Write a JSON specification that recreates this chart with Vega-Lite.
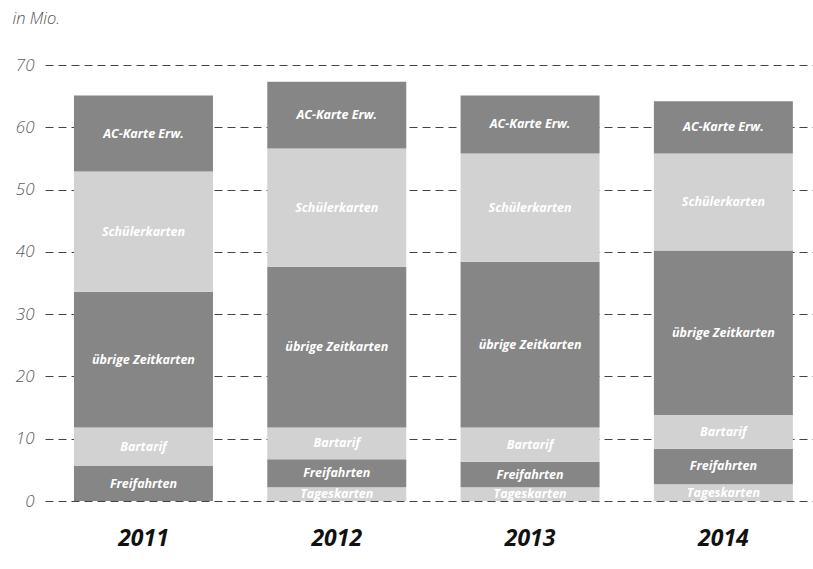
{
  "$schema": "https://vega.github.io/schema/vega-lite/v6.json",
  "autosize": {"type": "none"},
  "width": 768,
  "height": 436,
  "padding": {"left": 45, "top": 65, "right": 0, "bottom": 68},
  "background": "white",
  "data": {
    "values": [
      {"year": "2011", "cat": "Freifahrten", "value": 5.6},
      {"year": "2011", "cat": "Bartarif", "value": 6.2},
      {"year": "2011", "cat": "übrige Zeitkarten", "value": 21.8},
      {"year": "2011", "cat": "Schülerkarten", "value": 19.3},
      {"year": "2011", "cat": "AC-Karte Erw.", "value": 12.2},
      {"year": "2012", "cat": "Tageskarten", "value": 2.2},
      {"year": "2012", "cat": "Freifahrten", "value": 4.5},
      {"year": "2012", "cat": "Bartarif", "value": 5.1},
      {"year": "2012", "cat": "übrige Zeitkarten", "value": 25.8},
      {"year": "2012", "cat": "Schülerkarten", "value": 19.0},
      {"year": "2012", "cat": "AC-Karte Erw.", "value": 10.7},
      {"year": "2013", "cat": "Tageskarten", "value": 2.2},
      {"year": "2013", "cat": "Freifahrten", "value": 4.1},
      {"year": "2013", "cat": "Bartarif", "value": 5.5},
      {"year": "2013", "cat": "übrige Zeitkarten", "value": 26.6},
      {"year": "2013", "cat": "Schülerkarten", "value": 17.4},
      {"year": "2013", "cat": "AC-Karte Erw.", "value": 9.3},
      {"year": "2014", "cat": "Tageskarten", "value": 2.7},
      {"year": "2014", "cat": "Freifahrten", "value": 5.7},
      {"year": "2014", "cat": "Bartarif", "value": 5.4},
      {"year": "2014", "cat": "übrige Zeitkarten", "value": 26.4},
      {"year": "2014", "cat": "Schülerkarten", "value": 15.6},
      {"year": "2014", "cat": "AC-Karte Erw.", "value": 8.4}
    ]
  },
  "transform": [
    {"calculate": "indexof(['Tageskarten','Freifahrten','Bartarif','übrige Zeitkarten','Schülerkarten','AC-Karte Erw.'], datum.cat)", "as": "ord"},
    {"stack": "value", "groupby": ["year"], "sort": [{"field": "ord", "order": "ascending"}], "as": ["v0", "v1"]},
    {"calculate": "(datum.v0 + datum.v1) / 2", "as": "vm"}
  ],
  "encoding": {
    "x": {
      "field": "year",
      "type": "nominal",
      "scale": {"paddingInner": 0.281, "paddingOuter": 0.127, "align": 0.59},
      "axis": {
        "title": null,
        "domain": false,
        "ticks": false,
        "labelAngle": 0,
        "labelFont": "Open Sans",
        "labelFontSize": 23,
        "labelFontWeight": "bold",
        "labelFontStyle": "italic",
        "labelColor": "#111111",
        "labelPadding": 26
      }
    }
  },
  "layer": [
    {
      "mark": {"type": "bar"},
      "encoding": {
        "y": {
          "field": "v1",
          "type": "quantitative",
          "scale": {"domain": [0, 70]},
          "axis": {
            "values": [0, 10, 20, 30, 40, 50, 60, 70],
            "title": "in Mio.",
            "titleAngle": 0,
            "titleAlign": "left",
            "titleBaseline": "middle",
            "titleX": -33,
            "titleY": -47,
            "titleFont": "Open Sans",
            "titleFontSize": 16.5,
            "titleFontWeight": 300,
            "titleFontStyle": "italic",
            "titleColor": "#555555",
            "domain": false,
            "ticks": false,
            "labelPadding": 11,
            "labelFont": "Open Sans",
            "labelFontSize": 17,
            "labelFontWeight": 300,
            "labelFontStyle": "italic",
            "labelColor": "#5c5c5c",
            "grid": true,
            "gridColor": "#444444",
            "gridDash": [8, 5],
            "gridWidth": 1
          }
        },
        "y2": {"field": "v0"},
        "color": {
          "field": "cat",
          "type": "nominal",
          "scale": {
            "domain": ["Tageskarten", "Freifahrten", "Bartarif", "übrige Zeitkarten", "Schülerkarten", "AC-Karte Erw."],
            "range": ["#d2d2d2", "#868686", "#d2d2d2", "#868686", "#d2d2d2", "#868686"]
          },
          "legend": null
        }
      }
    },
    {
      "mark": {
        "type": "text",
        "font": "Open Sans",
        "fontSize": 12.5,
        "fontWeight": "bold",
        "fontStyle": "italic",
        "color": "white",
        "baseline": "middle",
        "align": "center"
      },
      "encoding": {
        "y": {"field": "vm", "type": "quantitative"},
        "text": {"field": "cat"}
      }
    }
  ],
  "config": {"view": {"stroke": null}}
}
